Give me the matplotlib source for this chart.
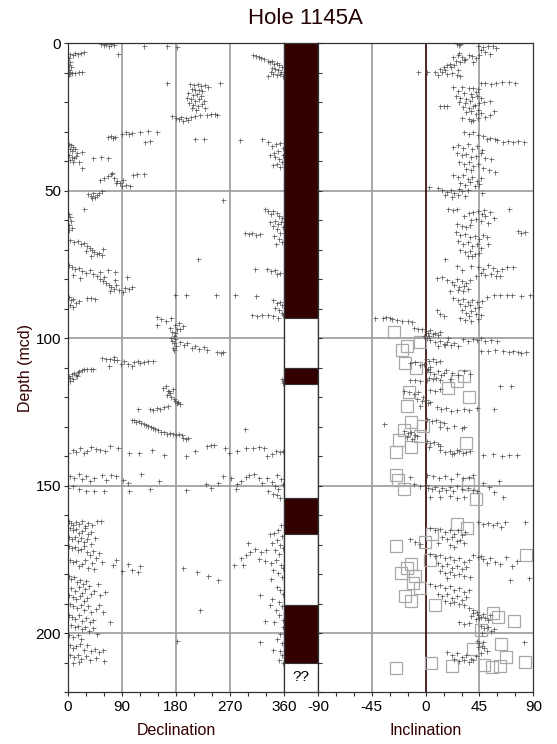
import matplotlib
matplotlib.use("Agg")
import matplotlib.pyplot as plt
from matplotlib.patches import Rectangle
import numpy as np

plt.rcParams['font.family'] = ['Liberation Sans', 'DejaVu Sans']
plt.rcParams['axes.unicode_minus'] = False

# ---------------- data ----------------
# Declination points (declination deg, depth mcd)
decl_pts = [
(55,0.3),(60,0.6),(64,0.2),(68,0.8),(72,0.4),(76,0.5),(127,1.0),(165,1.0),(182,1.2),
(4,3.5),(8,3.9),(12,3.3),(17,3.7),(22,3.4),(26,3.1),(84,3.6),
(1,5.0),(3,6.2),(2,7.5),(5,8.0),(1,9.0),(3,9.8),(2,10.5),(7,10.2),(12,10.0),(18,9.9),(23,9.7),(0.5,11.0),
(308,4.0),(313,4.3),(318,4.6),(322,5.0),(327,5.3),(333,5.9),(336,6.5),(340,6.1),(344,7.0),(348,6.8),(352,7.4),(356,7.9),(340,8.3),(345,8.8),(350,9.1),(355,9.6),(338,9.9),(342,10.5),(348,10.8),(353,10.3),(358,11.2),(334,11.0),
(165,13.4),(253,13.6),
(203,13.9),(210,14.2),(216,13.7),(222,14.5),(228,14.0),(233,14.8),(206,15.5),(212,16.0),(218,15.8),(224,16.3),(200,17.0),(208,17.6),(215,17.3),(221,18.0),(198,18.6),(205,19.0),(212,19.4),(219,18.9),(226,19.7),(202,20.3),(209,20.8),(216,21.2),(223,20.5),(207,22.1),(214,22.5),(229,21.8),
(174,24.5),(180,25.2),(185,25.8),(188,25.0),(192,26.3),(196,25.5),(200,26.0),(205,25.1),(212,24.8),(220,24.4),(231,24.2),(238,23.9),(245,24.0),(249,24.3),
(212,32.6),(226,32.5),(287,32.8),(323,32.6),
(67,31.7),(71,31.5),(75,32.0),(78,31.8),(90,30.7),(96,30.2),(102,30.6),(106,30.4),(120,30.0),(134,29.8),(148,30.1),(128,33.4),(137,33.3),
(1,34.0),(5,34.6),(9,35.2),(3,35.9),(7,36.5),(12,36.0),(15,37.1),(2,37.8),(6,38.4),(10,38.9),(14,38.3),(4,39.6),(9,40.2),(18,40.1),(23,36.8),
(42,38.8),(55,38.7),(67,38.9),(23,42.2),
(333,33.5),(340,34.8),(347,34.2),(354,33.8),(358,35.5),(350,36.4),(343,37.3),(336,38.0),(345,38.7),(352,39.4),(356,40.1),(348,40.8),(341,41.3),(353,41.8),(358,37.9),
(54,46.5),(60,45.8),(66,45.0),(71,44.3),(76,45.6),(82,46.8),(87,47.3),(92,46.2),(97,47.9),(103,48.3),(108,44.6),(115,44.4),(126,44.3),(73,44.0),(80,47.5),(90,48.5),
(34,51.0),(38,51.7),(42,50.6),(45,52.2),(48,51.4),(52,50.9),(57,50.2),(40,52.6),(26,56.3),(258,53.0),
(1,57.8),(3,59.0),(5,60.3),(2,61.5),(6,62.6),(1,63.3),
(328,56.2),(333,57.0),(338,58.0),(342,56.8),(348,57.5),(352,58.7),(356,59.4),(345,60.1),(350,61.2),(355,60.6),(358,62.3),(348,63.0),(354,64.2),(341,62.1),(337,60.5),(344,65.4),(351,66.3),(357,67.5),(346,68.1),
(295,64.5),(301,64.8),(307,64.3),(313,64.9),(320,64.6),
(4,66.8),(10,67.4),(16,67.0),(22,68.1),(27,67.8),(32,68.6),(36,69.4),(40,70.2),(44,70.8),(48,71.3),(52,71.0),(56,71.9),(30,70.6),(38,72.2),(59,69.9),(217,73.0),
(1,75.3),(6,75.8),(12,76.6),(18,76.1),(24,77.2),(30,77.9),(36,76.8),(42,78.4),(48,78.9),(54,77.5),(60,79.3),(66,76.9),(78,77.6),(98,79.4),(8,78.6),(20,79.7),
(53,79.9),(58,80.6),(63,81.2),(68,81.9),(72,82.5),(76,83.4),(80,82.0),(85,83.8),(70,84.1),(78,80.4),(92,84.3),(95,83.0),(101,83.3),(106,82.8),
(178,85.4),(197,85.3),(247,85.5),(278,85.4),(314,85.6),
(312,76.4),(331,76.5),(338,77.1),(345,76.9),(353,77.8),(349,78.2),
(342,87.0),(348,88.1),(353,87.7),(357,88.9),(345,89.8),(351,90.6),(356,91.4),(359,92.1),(306,92.2),(315,92.5),(324,92.0),(333,92.3),(342,92.6),(350,93.0),
(1,86.1),(5,87.2),(9,86.7),(14,88.0),(3,88.9),(8,89.4),(19,87.3),(31,86.5),(38,86.3),(45,86.6),
(148,92.8),(155,93.6),(163,94.1),(172,93.2),(178,95.4),(185,94.9),(192,96.0),
(148,95.6),(170,96.5),(174,97.8),(176,99.1),(178,100.3),(173,101.0),(177,101.8),(180,102.6),(175,103.2),(179,98.4),(182,97.0),(171,99.9),(186,96.8),(176,104.0),
(187,101.2),(193,102.4),(199,101.6),(206,103.3),(212,102.8),(219,103.6),(226,103.1),(231,103.9),(248,104.8),(255,105.0),(259,104.6),
(56,106.6),(63,107.1),(70,106.9),(76,106.4),(82,107.5),(88,108.7),(94,107.8),(100,108.9),(106,109.3),(110,108.2),(116,107.7),(120,108.4),(126,108.1),(134,107.6),(142,107.9),(68,109.5),(77,107.3),
(1,112.8),(4,113.4),(7,112.3),(10,111.9),(13,112.5),(16,111.4),(19,111.1),(23,110.8),(27,110.6),(32,110.3),(38,110.5),(42,110.4),(3,114.6),(9,113.9),(15,112.9),
(356,113.8),(358,114.6),(359,115.2),
(159,117.0),(163,116.3),(167,117.8),(170,118.6),(165,119.2),(172,119.9),(176,120.5),(178,121.3),(181,122.0),(184,121.6),(187,122.4),(168,118.0),(175,117.4),
(137,123.9),(142,124.2),(148,123.8),(153,124.1),(117,123.9),(160,123.5),(166,123.0),
(106,127.6),(110,127.9),(114,128.3),(118,128.0),(122,128.7),(126,129.1),(130,129.6),(134,129.8),(138,130.2),(142,130.6),
(145,130.8),(150,131.3),(155,131.7),(160,131.9),(165,132.4),(170,132.0),(175,132.6),(180,132.9),(185,132.5),(190,133.0),(192,133.9),(196,134.1),(200,133.7),
(295,130.9),
(0,139.1),(8,138.0),(14,138.6),(20,137.2),(26,138.9),(32,138.3),(38,137.0),(46,137.6),(54,137.9),(62,138.4),(70,136.5),(84,137.4),(102,139.1),(118,138.8),(140,137.8),(160,139.6),(196,140.0),(212,138.3),(232,136.6),(238,136.2),(244,136.4),(262,137.3),(268,139.0),(282,138.4),(296,137.2),(308,137.1),(318,137.0),(326,137.3),(340,139.3),(346,138.1),(354,138.6),(359,138.2),(332,139.8),
(4,146.6),(10,147.4),(18,146.1),(24,147.8),(30,146.9),(36,148.6),(44,147.5),(56,146.4),(64,148.0),(72,146.5),(80,146.7),(92,148.1),(100,149.0),(122,146.0),(152,148.3),(230,149.3),(250,149.0),(258,146.8),(272,147.3),(282,149.6),(288,148.4),(296,147.0),(302,146.4),(310,146.1),(318,147.5),(324,149.0),(332,147.3),(340,148.8),(348,146.3),(355,147.9),(359,149.3),(345,150.1),(350,151.1),(0,150.8),(8,150.2),(18,151.3),(30,152.0),(44,151.7),(60,151.9),(102,151.7),(136,151.0),(196,151.5),(238,150.7),(280,151.3),(334,152.0),(342,153.0),(349,153.3),(354,154.1),
(1,162.0),(5,162.6),(9,163.3),(14,162.4),(19,163.0),(24,162.1),(29,163.6),(34,162.7),(40,163.2),(48,161.9),(55,162.0),
(3,164.5),(8,165.2),(13,164.8),(18,166.0),(23,165.5),(28,164.3),(33,166.4),(38,165.9),
(2,167.3),(7,168.0),(12,167.5),(17,168.7),(22,167.9),(27,169.1),(32,168.2),(39,169.8),(45,167.8),
(1,170.4),(6,171.2),(11,170.7),(16,172.0),(21,171.6),(26,170.5),(31,172.6),(36,173.4),(41,172.1),(47,174.6),(52,173.0),
(3,175.1),(8,176.0),(13,175.6),(18,177.2),(24,176.6),(29,175.3),(34,177.8),(40,176.2),(44,178.4),(56,175.9),(75,177.0),(80,175.3),(90,178.8),(100,176.6),(106,178.5),(116,179.2),(120,177.4),(192,177.9),(215,179.4),(234,180.8),(250,182.0),
(1,180.5),(5,181.7),(10,181.0),(15,182.6),(20,181.9),(25,183.4),(30,182.3),(35,184.0),(5,184.8),(12,185.6),(18,184.4),(24,186.3),(28,185.2),(2,187.0),(8,187.8),(14,188.5),(20,187.3),(26,189.2),(32,188.0),(38,186.6),(44,185.9),(50,183.3),(54,187.1),(62,186.0),
(3,190.1),(9,190.8),(15,191.5),(21,190.4),(27,192.1),(33,191.0),(39,192.8),(46,191.9),(52,190.6),(58,193.0),
(1,193.8),(6,194.6),(12,195.3),(18,194.0),(24,195.9),(30,194.8),(36,196.4),(42,195.5),(5,197.2),(11,198.0),(17,197.5),(23,198.7),(29,197.9),(35,199.2),(41,198.4),(70,196.1),(48,200.3),(2,200.8),(9,201.3),(16,200.5),(22,201.9),
(3,204.0),(8,205.1),(14,204.5),(20,203.6),(26,205.6),(32,204.2),(38,206.0),(45,205.3),(52,206.4),(58,205.7),(4,207.3),(10,208.1),(16,207.6),(22,208.9),(30,207.9),(36,209.2),(46,208.3),(60,209.4),(8,210.1),(18,209.8),
(182,202.8),(220,192.3),
(355,163.4),(350,165.0),(343,166.2),(356,167.1),(336,166.4),(348,168.5),(354,170.1),(340,169.3),(358,171.2),(345,172.0),(352,173.3),(330,171.7),(322,172.4),(312,171.5),(304,172.6),(296,173.6),(288,174.5),(318,174.8),(328,175.6),(339,176.3),(347,175.1),(355,176.8),(359,178.0),(342,178.6),(350,179.7),(357,180.9),(338,181.6),(292,176.9),(300,169.3),(277,176.9),(320,187.0),(348,184.5),(354,185.3),(358,186.9),(340,188.4),(351,189.6),(356,191.0),(346,192.3),(352,194.0),(358,195.6),(344,196.1),(359,198.0),(353,200.4),(349,202.1),(356,203.3),(320,203.0),(342,205.9),(353,206.2),(357,207.6),(352,209.1),(358,210.0),(328,195.8),(336,190.5),
]

# Inclination points (inclination deg, depth mcd)
incl_pts = [
(26,0.2),(28,0.7),(29,0.3),(44,0.9),(48,1.2),(52,0.8),(56,1.0),(59,1.5),(46,2.4),(50,3.0),(54,3.5),(45,3.8),
(23,4.8),(27,4.0),(30,4.6),(33,5.2),(36,3.8),(39,4.4),(42,5.0),(25,5.9),(29,6.4),(32,5.7),(28,3.4),(40,6.3),
(8,9.6),(12,8.6),(15,7.9),(18,7.3),(21,8.2),(24,7.5),(27,9.0),(14,9.9),(18,10.5),(22,10.2),(26,10.8),(29,11.1),(10,10.6),(-6,9.9),(1,9.9),(20,6.9),(16,8.9),
(46,13.6),(50,13.3),(55,13.8),(59,13.5),(64,13.1),(70,13.2),(75,13.4),(23,14.7),(30,14.9),(36,15.3),(40,15.0),(44,15.6),(27,16.2),(32,16.8),(38,17.1),(42,16.5),(25,18.0),(29,18.5),(34,18.9),(39,18.3),(43,17.9),(46,18.7),(28,19.8),(33,20.4),(37,19.7),(41,20.8),(45,20.1),(31,21.6),(36,22.0),(40,21.4),(44,22.5),(49,20.0),(54,19.6),(12,21.3),(15,21.2),(18,21.4),
(34,23.2),(38,22.8),(42,24.1),(46,23.6),(50,24.9),(54,24.2),(57,23.0),(36,25.8),(40,26.1),(44,25.4),(38,26.5),(30,25.5),
(32,30.2),(36,30.7),(40,30.0),(44,31.2),(48,31.6),(51,32.3),(54,32.2),(58,32.4),(60,32.8),(65,33.4),(69,33.1),(73,33.5),(77,33.2),(82,33.6),
(23,35.0),(27,34.4),(31,35.6),(35,34.2),(39,35.9),(43,34.8),(47,36.3),(26,37.2),(30,37.9),(34,37.4),(38,38.6),(42,38.1),(46,37.3),(50,38.9),(55,39.4),(28,40.2),(32,40.8),(36,40.3),(40,41.5),(44,41.0),(48,42.2),(34,42.6),(38,43.0),(53,42.8),(58,43.5),
(23,44.5),(27,45.2),(31,44.8),(35,46.0),(39,45.4),(43,46.6),(46,45.7),(29,47.3),(33,47.9),(37,47.2),(41,48.4),(45,47.7),(2.5,48.6),
(10,49.2),(14,49.8),(18,50.4),(21,49.6),(24,50.9),(27,51.3),(30,50.2),(33,51.7),(35,49.9),(16,51.5),(22,52.1),(28,49.3),(47,50.9),
(19,56.3),(23,56.5),(26,56.2),(70,56.3),
(32,58.4),(36,57.6),(40,57.1),(44,56.8),(47,57.9),(50,58.7),(54,57.3),(57,59.2),(42,59.6),(46,60.3),(52,60.8),(38,59.9),(49,56.6),
(26,61.2),(30,61.8),(34,62.4),(37,61.5),(77,63.8),(80,64.2),(83,63.9),
(25,64.1),(29,65.0),(33,64.6),(37,65.8),(41,65.3),(45,66.4),(48,64.9),(27,67.1),(31,68.0),(35,67.4),(39,68.7),(43,67.9),(46,69.3),(29,70.2),(33,70.9),(37,70.4),(41,71.6),(45,71.0),(35,72.3),(39,72.0),(16.4,73.0),(52,68.2),(51,65.7),
(26,75.6),(30,76.8),(38,75.4),(44,75.9),(48,76.6),(52,75.3),(56,76.1),(60,77.2),(64,76.4),(68,75.8),(73,76.0),(46,77.9),(50,78.6),(55,78.1),(59,79.0),(42,78.8),(62,78.9),
(9.5,79.6),(14,79.3),(18,80.2),(22,80.9),(26,80.0),(30,80.7),(34,81.4),(37,80.4),(24,82.1),(28,82.8),(32,82.3),(27,83.6),(31,84.1),(35,83.3),(20,83.9),
(57,85.4),(62,85.2),(68,85.5),(72,85.3),(80,85.6),(87,85.2),
(23,86.3),(27,87.0),(31,86.6),(35,87.6),(39,86.9),(43,87.8),(47,87.3),(51,86.2),(29,88.5),(33,89.2),(37,88.8),(41,89.9),(45,89.4),(30,90.6),(34,91.3),(38,90.9),(42,91.8),(36,92.4),(9.5,90.6),(12,91.8),(15,92.6),(46,92.0),
(29,93.0),(33,93.8),(38,94.3),(44,93.5),
(-42,93.0),(-36,93.3),(-33,92.9),(-30,93.1),(-28,93.5),(-24,93.8),(-20,94.2),(-15,94.1),(-11,94.5),
(-10,96.4),(-6,97.0),(-3,96.8),(0,97.6),(2,98.1),(4,97.3),(6,98.7),(8,98.2),(10,99.0),(12,97.8),(3,99.4),(-1,99.1),
(1,99.8),(4,100.5),(8,101.4),(12,100.8),(15,101.9),(18,101.2),(21,102.3),(24,101.7),(27,102.6),(31,100.4),(35,101.0),(40,100.3),(46,100.1),(10,102.7),(16,102.2),(19,100.1),(43,100.6),(50,100.9),(55,100.6),(60,100.8),
(46,104.3),(52,104.5),(58,103.9),(65,104.2),(70,104.8),(73,104.4),(77,104.6),(80,104.9),(84,104.7),
(0,107.0),(3,107.6),(6,107.2),(9,108.1),(12,107.8),(-13,108.4),(-9,108.0),(-5,109.2),(-1,108.8),(2,110.3),(4,109.8),
(1,110.7),(4,111.5),(7,112.0),(10,111.3),(13,112.6),(15,111.9),(3,113.4),(6,114.0),(9,113.6),(12,114.3),(17,110.9),(22,111.7),(27,112.5),(32,111.2),(37,112.0),(20,113.8),(-13,114.2),(-9,114.2),(-5,114.4),(1,114.2),
(62,116.3),(71,116.3),
(-18,117.9),(-14,118.4),(-10,119.0),(-6,118.1),(-2,119.8),(4,117.6),(8,118.0),(12,117.4),(-7,120.6),(-3,121.4),(0,120.9),(2,122.1),(4,121.8),(-5,123.0),(9.5,123.5),(13,124.1),(17,123.7),(21,124.6),(26,124.3),(32,123.9),(36,124.4),(43,123.6),(57,123.9),
(1,127.4),(5,128.0),(9,127.7),(12,128.6),(15,128.9),(12,130.1),(18,130.3),(24,129.9),(30,130.4),(32,130.0),(-35,129.2),
(-18,131.4),(-15,132.1),(-12,131.8),(-9,132.7),(-7,133.3),(-16,133.6),(-11,134.2),
(1,134.8),(4,135.5),(7,135.1),(10,136.0),(12,136.6),(3,136.9),
(12,138.0),(16,138.5),(20,138.2),(24,138.9),(28,138.4),(31,139.0),(34,138.6),(37,138.1),(22,139.4),(26,137.8),
(48,139.7),(56,139.4),(64,139.8),(70,139.6),(76,139.7),
(-13,147.0),(1,146.3),(6,146.9),(11,147.4),(16,146.6),(21,147.8),(26,146.1),(31,147.3),(36,147.0),(40,146.5),
(-10,149.6),(-5,150.3),(0,149.9),(2,150.8),(5,151.3),(8,150.4),(11,151.7),(14,150.9),(17,151.5),(20,150.6),(23,151.9),(26,150.2),(30,151.1),(35,150.7),(40,151.4),(43,152.0),
(4,153.8),(12,154.0),(20,153.6),(26,154.2),(32,153.7),
(48,149.1),(53,150.5),(57,152.3),(61,148.4),(65,153.7),
(44,162.4),(48,163.0),(52,162.6),(56,163.5),(60,162.8),(63,163.9),(66,162.5),(83,162.3),
(4,164.3),(8,165.0),(12,164.6),(16,165.7),(20,165.2),(24,166.3),(27,164.9),(30,166.8),(33,165.8),(14,167.4),(18,168.1),(22,167.6),(26,168.9),(29,168.3),(32,169.4),(20,170.2),(24,170.8),(-13,168.2),(-9,169.0),(-5,169.8),(10,169.5),
(4,173.2),(8,174.0),(12,173.6),(16,174.7),(20,174.1),(24,175.3),(28,174.6),(32,175.9),(36,175.2),(40,173.5),(10,176.4),(14,177.1),(18,176.6),(22,177.8),(26,177.2),(30,178.4),(34,177.6),(12,179.0),(16,179.7),(20,179.2),(24,180.4),(28,179.9),(32,180.8),(18,181.2),(37,181.0),
(44,174.2),(48,175.0),(51,176.1),(46,173.9),
(54,174.5),(58,175.8),(62,176.6),(67,174.3),(72,177.2),(76,175.5),(70.6,182.1),(86,181.5),
(4,183.4),(8,184.1),(12,183.7),(16,184.8),(20,184.2),(24,185.4),(28,184.7),(32,186.0),(36,185.3),(10,186.6),(14,187.3),(18,186.8),(22,188.0),(26,187.4),(30,188.7),(34,187.9),(16,189.2),(20,189.9),(24,189.4),(28,190.0),
(32,190.6),(36,191.4),(40,192.1),(43,193.0),(38,194.2),(42,195.3),
(40,193.2),(44,193.8),(46,194.5),(48,193.4),(50,194.9),(52,195.5),(54,194.0),(45,195.0),
(28,196.3),(32,197.0),(36,196.6),(46,197.6),(49,198.4),(52,197.9),(55,199.4),(57,198.8),(47,200.0),
(43,202.6),(45,203.5),(47,204.3),(49,205.2),(51,206.0),(46,206.7),(44,204.8),(48,202.9),(82,203.0),
(18,206.6),(22,207.3),(26,206.9),(30,208.0),(34,207.5),(38,208.7),(42,207.9),(24,208.9),(28,209.5),(32,209.1),(36,209.8),(40,209.3),
]

# Open squares in inclination panel (inclination deg, depth mcd)
square_incl = [-26.1,-5.0,-15.5,-19.4,-17.5,-7.7,31.7,26.2,18.7,35.9,-13.6,-15.2,-11.9,-2.2,-18.3,-22.5,-4.4,-11.9,-24.4,33.4,
               -25.2,-22.7,-18.3,35.1,42.0,26.2,34.5,5.1,-0.2,-24.4,3.4,-11.9,-15.5,-20.5,-8.6,-10.5,-4.4,-16.9,-12.5,7.6,
               83.9,56.7,60.9,74.2,45.9,62.8,39.5,67.3,83.4,-25.0,4.5,22.0,49.0,55.6,62.3]
square_depth = [97.8,101.2,102.6,104.1,108.4,110.1,112.8,114.6,116.8,119.9,118.4,123.0,128.4,129.7,131.2,134.4,133.2,136.9,138.6,135.4,
                146.5,148.0,151.0,149.6,154.6,163.1,164.3,166.3,169.1,170.6,175.1,176.5,178.1,179.5,180.7,183.2,184.6,187.5,189.1,190.6,
                173.4,193.1,194.5,196.0,199.1,203.6,205.4,208.1,209.8,211.9,210.2,211.1,210.7,211.5,211.3]

# Polarity column: (top depth, bottom depth, polarity) 1 = normal (black), 0 = reversed (white)
polarity_top = [0, 93.3, 110.1, 115.6, 154.2, 166.3, 190.4]
polarity_bottom = [93.3, 110.1, 115.6, 154.2, 166.3, 190.4, 210.2]
polarity_state = [1, 0, 1, 0, 1, 0, 1]

title = "Hole 1145A"
decl_ticks = [0, 90, 180, 270, 360]
incl_ticks = [-90, -45, 0, 45, 90]
depth_ticks = [0, 50, 100, 150, 200]

# ---------------- figure ----------------
W, H = 557, 744
fig = plt.figure(figsize=(W/100, H/100), dpi=100)

def rect(x0, x1, ytop, ybot):
    return [x0/W, 1-ybot/H, (x1-x0)/W, (ybot-ytop)/H]

ytop, ybot = 43.3, 692.0
ax1 = fig.add_axes(rect(68, 284, ytop, ybot))
ax2 = fig.add_axes(rect(284, 318, ytop, ybot))
ax3 = fig.add_axes(rect(318, 533.3, ytop, ybot))

maroon = '#330000'
grid_c = '#9a9a9a'
pt_c = '#4a4a4a'
spine_c = '#333333'

for ax in (ax1, ax2, ax3):
    ax.set_ylim(220, 0)
    for s in ax.spines.values():
        s.set_color(spine_c)
        s.set_linewidth(0.9)

# Declination
d = np.array(decl_pts)
ax1.set_xlim(0, 360)
for v in [90, 180, 270]:
    ax1.axvline(v, color=grid_c, lw=1.2, zorder=0)
for v in [50, 100, 150, 200]:
    ax1.axhline(v, color=grid_c, lw=1.2, zorder=0)
ax1.plot(d[:, 0], d[:, 1], '+', color=pt_c, ms=3.6, mew=0.55, alpha=0.9, zorder=2)
ax1.set_xticks(decl_ticks)
ax1.set_xticks(np.arange(0, 361, 30), minor=True)
ax1.set_yticks(depth_ticks)
ax1.set_yticks(np.arange(0, 221, 10), minor=True)
ax1.tick_params(axis='both', which='both', direction='out', length=3, width=0.8,
                color=spine_c, labelsize=11, pad=2)
ax1.tick_params(axis='x', which='major', pad=3)
ax1.set_xlabel('Declination', fontsize=11.5, color=maroon, labelpad=6)
ax1.set_ylabel('Depth (mcd)', fontsize=11.5, color=maroon, labelpad=2)

# Polarity column
ax2.set_xlim(0, 1)
for t, b, s in zip(polarity_top, polarity_bottom, polarity_state):
    ax2.add_patch(Rectangle((0, t), 1, b - t, facecolor=maroon if s else 'white',
                            edgecolor=spine_c, lw=0.8))
ax2.text(0.5, 215, '??', ha='center', va='center', fontsize=11, color='black')
ax2.set_xticks([])
ax2.set_yticks([])

# Inclination
q = np.array(incl_pts)
ax3.set_xlim(-90, 90)
for v in [-45, 45]:
    ax3.axvline(v, color=grid_c, lw=1.2, zorder=0)
ax3.axvline(0, color=maroon, lw=1.2, zorder=1)
for v in [50, 100, 150, 200]:
    ax3.axhline(v, color=grid_c, lw=1.2, zorder=0)
ax3.plot(square_incl, square_depth, 's', mfc='none', mec='#a8a8a8', ms=9, mew=0.9, zorder=2)
ax3.plot(q[:, 0], q[:, 1], '+', color=pt_c, ms=3.6, mew=0.55, alpha=0.9, zorder=3)
ax3.set_xticks(incl_ticks)
ax3.set_xticks(np.arange(-90, 91, 15), minor=True)
ax3.set_yticks(np.arange(0, 221, 10))
ax3.set_yticklabels([])
ax3.tick_params(axis='y', which='both', direction='in', length=3, width=0.8, color=spine_c)
ax3.tick_params(axis='x', which='both', direction='out', length=3, width=0.8,
                color=spine_c, labelsize=11, pad=3)
ax3.set_xlabel('Inclination', fontsize=11.5, color=maroon, labelpad=6)

fig.text(305/W, 1 - 19/H, title, ha='center', va='center', fontsize=16, color='#220000')

fig.savefig('out.png', dpi=100)
